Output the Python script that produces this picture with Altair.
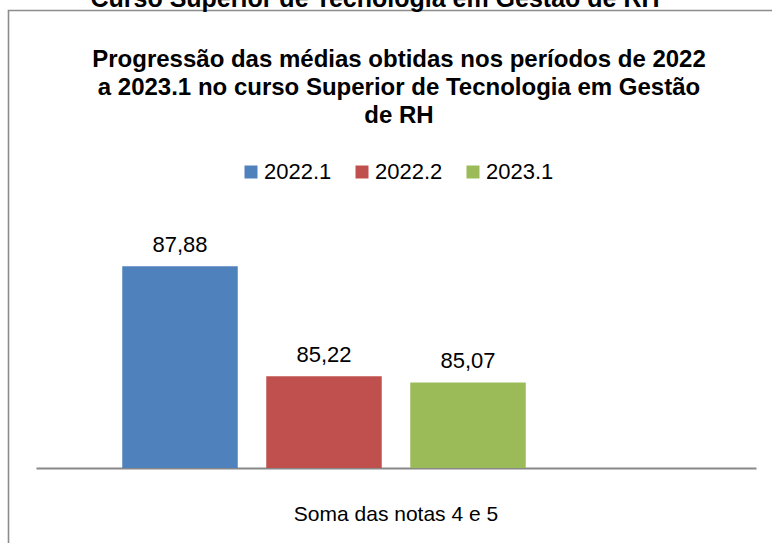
import altair as alt
import pandas as pd

SERIES = ["2022.1", "2022.2", "2023.1"]
VALUES = [87.88, 85.22, 85.07]
CATEGORY = ["Soma das notas 4 e 5"] * 3
COLORS = ["#4F81BD", "#C0504D", "#9BBB59"]
Y_MIN, Y_MAX = 83, 89
TITLE = ["Progressão das médias obtidas nos períodos de 2022",
         "a 2023.1 no curso Superior de Tecnologia em Gestão",
         "de RH"]
TOP_TEXT = ["Curso Superior de Tecnologia em Gestão de RH"]

FONT = "Liberation Sans"

df = pd.DataFrame({"serie": SERIES, "valor": VALUES, "cat": CATEGORY})

base = alt.Chart(df).encode(
    x=alt.X("cat:N", title=None,
            scale=alt.Scale(paddingInner=0, paddingOuter=0),
            axis=alt.Axis(labelAngle=0, ticks=False, labelPadding=35, labelLimit=0,
                          labelFontSize=21, labelFont=FONT, labelColor="#000",
                          domainColor="#888888", domainWidth=2)),
    xOffset=alt.XOffset("serie:N",
                        scale=alt.Scale(domain=SERIES + ["_"],
                                        paddingInner=0.198, paddingOuter=0.599)),
)

bars = base.mark_bar().encode(
    y=alt.Y("valor:Q", scale=alt.Scale(domain=[Y_MIN, Y_MAX], zero=False, nice=False),
            axis=None),
    y2=alt.datum(Y_MIN),
    color=alt.Color("serie:N", scale=alt.Scale(domain=SERIES, range=COLORS),
                    legend=alt.Legend(title=None, orient="none", direction="horizontal",
                                      legendX=204, legendY=-59,
                                      symbolType="square", symbolSize=169,
                                      symbolStrokeWidth=0, symbolOpacity=1,
                                      labelFontSize=22, labelFont=FONT,
                                      labelColor="#000", columnPadding=19,
                                      symbolOffset=0, labelOffset=2)),
)

labels = base.transform_calculate(
    lbl="replace(format(datum.valor, '.2f'), '.', ',')"
).mark_text(baseline="bottom", dy=-9, fontSize=22, font=FONT, color="#000").encode(
    y=alt.Y("valor:Q"),
    text="lbl:N",
)

top_text = alt.Chart(pd.DataFrame({"t": TOP_TEXT})).mark_text(
    fontSize=25, font=FONT, fontWeight="bold", baseline="alphabetic", align="center",
    color="#000"
).encode(x=alt.value(339), y=alt.value(-213), text="t:N")

title = alt.Chart(pd.DataFrame({"t": TOP_TEXT})).mark_text(
    text=TITLE, fontSize=24, font=FONT, fontWeight="bold", baseline="alphabetic",
    align="center", color="#000", lineHeight=28
).encode(x=alt.value(363), y=alt.value(-153))

border = alt.Chart(pd.DataFrame({"t": TOP_TEXT})).mark_rect(
    fill=None, stroke="#8c8c8c", strokeWidth=1.6
).encode(x=alt.value(-27.5), x2=alt.value(800), y=alt.value(-209.5), y2=alt.value(400))

chart = alt.layer(border, top_text, title, bars, labels).properties(
    width=720, height=248,
    autosize=alt.AutoSizeParams(type="none"),
    padding={"left": 36, "top": 220, "right": 16, "bottom": 75},
).configure_view(stroke=None)

chart.save("out.html", embed_options={"renderer": "svg", "actions": False})
